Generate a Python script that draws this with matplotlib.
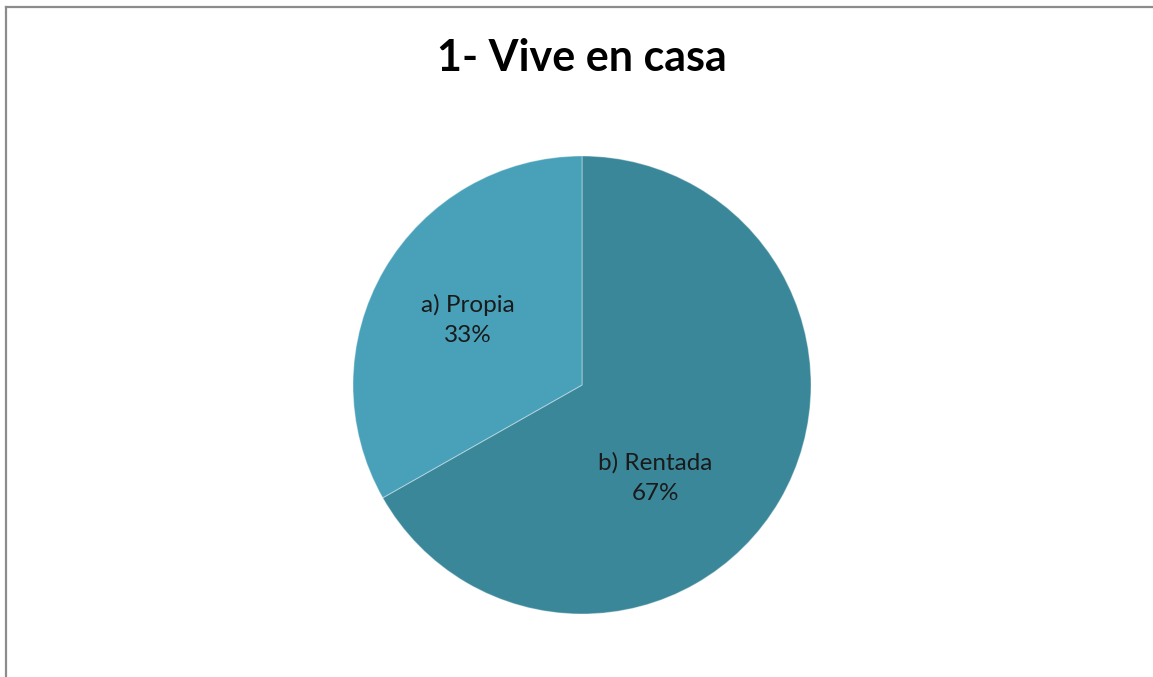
import matplotlib
matplotlib.use("Agg")
import matplotlib.pyplot as plt
from matplotlib.lines import Line2D
import numpy as np

title = "1- Vive en casa"
categories = ["b) Rentada", "a) Propia"]
values = [66.8, 33.2]
pct_labels = ["67%", "33%"]
colors = ["#3b879a", "#48a1b9"]

W, H = 1153, 677
fig = plt.figure(figsize=(W / 100, H / 100), dpi=100)
fig.patch.set_facecolor("white")

# outer border (left and top visible only)
bx, by = 5.5 / W, 1 - 6.5 / H
fig.lines.append(Line2D([bx, bx], [0, by], transform=fig.transFigure,
                        color="#8c8c8c", linewidth=1.6, solid_capstyle="projecting"))
fig.lines.append(Line2D([bx, 1], [by, by], transform=fig.transFigure,
                        color="#8c8c8c", linewidth=1.6, solid_capstyle="projecting"))

cx, cy, r = 582, H - 385, 229
ax = fig.add_axes([(cx - r) / W, (cy - r) / H, 2 * r / W, 2 * r / H])
wedges, _ = ax.pie(values, colors=colors, startangle=90, counterclock=False,
                   radius=1, wedgeprops=dict(edgecolor=(1, 1, 1, 0.35), linewidth=0.8))
ax.set_xlim(-1, 1)
ax.set_ylim(-1, 1)
ax.set_aspect("equal")
ax.axis("off")

# label placement (angle in degrees, radius fraction)
label_angle = [-51.8, 150.3]
label_radius = [0.516, 0.573]
for cat, pct, a, rr in zip(categories, pct_labels, label_angle, label_radius):
    x = rr * np.cos(np.radians(a))
    y = rr * np.sin(np.radians(a))
    ax.text(x, y, f"{cat}\n{pct}", ha="center", va="center", fontsize=17.5,
            family=["Lato", "DejaVu Sans"], color="#1a1a1a", linespacing=1.55)

fig.text(582 / W, 1 - 58 / H, title, ha="center", va="center", fontsize=31,
         fontweight="bold", family=["Lato", "DejaVu Sans"], color="black")

fig.savefig("out.png", dpi=100)
